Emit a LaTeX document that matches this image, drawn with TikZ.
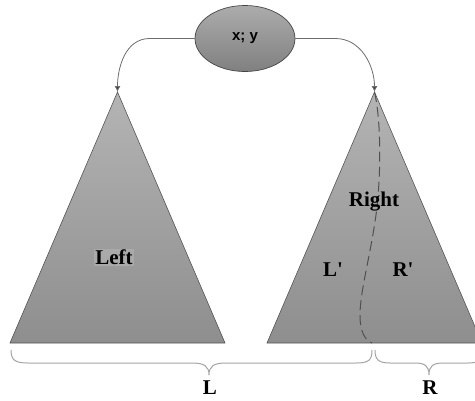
\documentclass[tikz,border=0pt]{standalone}
\usepackage{fontspec}
\setmainfont{Liberation Serif}
\newfontfamily\xysans{Liberation Sans}
\usetikzlibrary{shapes.geometric,arrows.meta}
\definecolor{tritop}{RGB}{180,180,180}
\definecolor{tribot}{RGB}{142,142,142}
\definecolor{triline}{RGB}{85,85,85}
\definecolor{elltop}{RGB}{172,172,172}
\definecolor{ellbot}{RGB}{128,128,128}
\definecolor{ellline}{RGB}{70,70,70}
\definecolor{conncol}{RGB}{110,110,110}
\definecolor{bracecol}{RGB}{165,165,165}
\definecolor{dashcol}{RGB}{80,80,80}
\definecolor{lblbg}{RGB}{170,170,170}
\tikzset{
  tri/.style={draw=triline, line width=0.6pt, top color=tritop, bottom color=tribot},
  conn/.style={draw=conncol, line width=0.8pt, -{Latex[length=6pt,width=6pt,fill=black!75]}},
  bracestyle/.style={draw=bracecol, line width=1pt},
  splitline/.style={draw=dashcol, line width=1pt, dash pattern=on 10pt off 5pt},
  lbl/.style={font=\fontsize{21}{24}\selectfont\bfseries, inner sep=1pt},
}
\begin{document}
\begin{tikzpicture}[x=1pt,y=-1pt]
\useasboundingbox (0,0) rectangle (475,400);
\clip (0,0) rectangle (475,400);
\fill[white] (0,0) rectangle (475,400);
% left triangle
\coordinate (lapex) at (117.5,92);
\coordinate (lbl) at (10,343);
\coordinate (lbr) at (225,343);
\path[tri] (lapex) -- (lbr) -- (lbl) -- cycle;
% right triangle
\coordinate (rapex) at (374.5,92);
\coordinate (rbl) at (267,343);
\coordinate (rbr) at (482,343);
\path[tri] (rapex) -- (rbr) -- (rbl) -- cycle;
% split curve
\coordinate (splitend) at (372,343);
\draw[splitline] (rapex) .. controls (381,120) and (381,170) .. (377,207)
  .. controls (372,250) and (360,290) .. (360,315)
  .. controls (360,332) and (365,340) .. (splitend);
% ellipse
\node[ellipse, draw=ellline, line width=0.7pt, top color=elltop, bottom color=ellbot,
  minimum width=100pt, minimum height=66pt, inner sep=0pt,
  font=\xysans\fontsize{15}{18}\selectfont\bfseries] (xy) at (245,38.5) {x; y};
% connectors
\draw[conn] (xy.west) -- ++(-45,0) to[out=180,in=90] (lapex);
\draw[conn] (xy.east) -- ++(40,0) to[out=0,in=90] (rapex);
% labels
\node[lbl, fill=lblbg] (left) at (114,257) {Left};
\node[lbl] (right) at (374,202) {Right};
\node[lbl] (lp) at (333,270) {L\textquotesingle};
\node[lbl] (rp) at (403,270) {R\textquotesingle};
% braces
\coordinate (lbs) at (11,350);
\coordinate (lbtip) at (209,375);
\coordinate (lbe) at (372,350);
\draw[bracestyle] (lbs) .. controls (11,360) and (15,363) .. (28,363) -- (192,363)
  .. controls (204,363) and (209,366) .. (lbtip)
  .. controls (209,366) and (214,363) .. (226,363) -- (356,363)
  .. controls (369,363) and (372,360) .. (lbe);
\coordinate (rbs) at (375,350);
\coordinate (rbtip) at (429,375);
\coordinate (rbe) at (483,350);
\draw[bracestyle] (rbs) .. controls (375,360) and (379,363) .. (390,363) -- (415,363)
  .. controls (425,363) and (429,366) .. (rbtip)
  .. controls (429,366) and (433,363) .. (443,363) -- (468,363)
  .. controls (479,363) and (483,360) .. (rbe);
\node[lbl] (Llab) at (210,388) {L};
\node[lbl] (Rlab) at (430,388) {R};
\end{tikzpicture}
\end{document}
